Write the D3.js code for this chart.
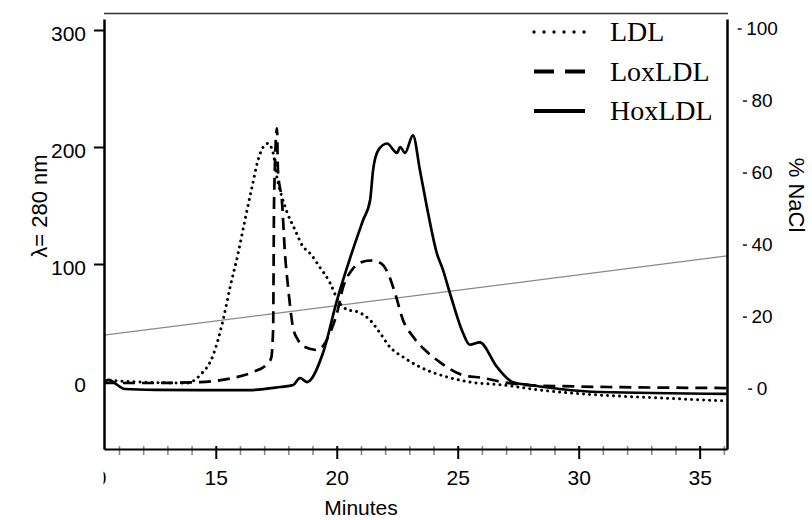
<!DOCTYPE html>
<html>
<head>
<meta charset="utf-8">
<script src="https://cdn.jsdelivr.net/npm/d3@7"></script>
<style>
  body { margin: 0; background: #fff; }
  text { font-family: Arial, "Liberation Sans", sans-serif; }
</style>
</head>
<body>
<svg id="chart" width="812" height="520"></svg>
<script>
// elution profiles (minutes vs absorbance at 280 nm)
const ldlTime = [10.38, 11.87, 13.81, 14.35, 14.89, 15.3, 15.59, 15.92, 16.21, 16.5, 16.75, 17.04, 17.16, 17.37, 17.53, 17.74, 17.95, 18.28, 18.57, 18.9, 19.31, 19.72, 20.05, 20.43, 20.88, 21.38, 21.79, 22.2, 22.74, 23.44, 24.56, 25.51, 26.87, 28.4, 30.88, 32.53, 36.13];
const ldlAbs  = [0.9, -0.9, -1.7, 5, 22, 52, 80, 109, 138, 166, 189, 202, 203, 195, 174, 157, 144, 129, 116, 109, 97, 84, 69, 61, 59, 52, 41, 29, 20.5, 12, 3.4, -0.9, -3.4, -7.7, -12, -13.7, -17];

const loxTime = [10.38, 12.28, 14.35, 15.71, 16.54, 17.12, 17.29, 17.37, 17.41, 17.53, 17.57, 17.74, 17.86, 17.99, 18.19, 18.4, 18.69, 19.19, 19.72, 20.01, 20.26, 20.63, 20.96, 21.38, 21.79, 22.12, 22.41, 22.74, 23.15, 23.65, 24.27, 25.22, 26.05, 26.87, 28.4, 36.13];
const loxAbs  = [-1.7, -1.7, -0.9, 2.6, 7.7, 14.5, 19.7, 43.6, 154.7, 216, 180, 152, 109, 80, 46, 35, 29, 26.5, 41, 58, 80, 95, 101, 103, 101, 92, 75, 52, 38, 26.5, 16, 5, 2.6, -1, -4, -6];

const hoxTime = [10.38, 10.55, 11.25, 12.5, 14.35, 16.42, 17.66, 18.2, 18.48, 18.77, 19.43, 20.01, 20.55, 21.09, 21.38, 21.5, 21.71, 22.08, 22.49, 22.62, 22.82, 23.15, 23.44, 23.77, 24.14, 24.39, 24.68, 25.22, 25.5, 25.91, 26.62, 27.28, 27.98, 29.22, 30.88, 36.13];
const hoxAbs  = [-2.6, 0.9, -6.8, -7.5, -7.7, -7.7, -5.1, -3.4, 2.6, -0.9, 23.9, 69, 105, 137.6, 154.7, 180, 197, 203, 195, 200, 195, 210, 180, 144, 109, 95, 75, 41, 31, 33, 12, -1, -3.4, -6.8, -9.4, -11];

// NaCl gradient (right axis)
const naclTime = [10.38, 36.13];
const naclPct  = [14.7, 36.7];

const absTicks = [0, 100, 200, 300];
const naclTicks = [0, 20, 40, 60, 80, 100];
const majorMinutes = [10, 15, 20, 25, 30, 35];
const legendLabels = ["LDL", "LoxLDL", "HoxLDL"];

const svg = d3.select("#chart");

const x = d3.scaleLinear().domain([10.38, 36.13]).range([104, 727]);
const yAbs = d3.scaleLinear().domain([-58.1, 309.4]).range([449, 19]);
const yNacl = d3.scaleLinear().domain([-16.9, 102.5]).range([449, 19]);

const defs = svg.append("defs");
defs.append("clipPath").attr("id", "plotClip")
  .append("rect").attr("x", 104).attr("y", 15).attr("width", 623).attr("height", 434);
defs.append("clipPath").attr("id", "xLabClip")
  .append("rect").attr("x", 103.5).attr("y", 440).attr("width", 709).attr("height", 80);

// top rule
svg.append("line")
  .attr("x1", x.range()[0]).attr("x2", x.range()[1] + 1)
  .attr("y1", 13.5).attr("y2", 13.5)
  .attr("stroke", "#333").attr("stroke-width", 1.5);

const plot = svg.append("g").attr("clip-path", "url(#plotClip)");

// gradient line
plot.append("path")
  .datum(d3.zip(naclTime, naclPct))
  .attr("d", d3.line().x(d => x(d[0])).y(d => yNacl(d[1])))
  .attr("fill", "none").attr("stroke", "#888").attr("stroke-width", 1.3);

const line = d3.line()
  .x(d => x(d[0])).y(d => yAbs(d[1]))
  .curve(d3.curveMonotoneX);

plot.append("path")
  .datum(d3.zip(ldlTime, ldlAbs))
  .attr("d", line)
  .attr("fill", "none").attr("stroke", "#000").attr("stroke-width", 3)
  .attr("stroke-linecap", "round").attr("stroke-dasharray", "0.01 6");

plot.append("path")
  .datum(d3.zip(loxTime, loxAbs))
  .attr("d", line)
  .attr("fill", "none").attr("stroke", "#000").attr("stroke-width", 2.7)
  .attr("stroke-dasharray", "12 7");

plot.append("path")
  .datum(d3.zip(hoxTime, hoxAbs))
  .attr("d", line)
  .attr("fill", "none").attr("stroke", "#000").attr("stroke-width", 2.7)
  .attr("stroke-linejoin", "round");

// left axis
const gLeft = svg.append("g")
  .attr("transform", "translate(104,0)")
  .call(d3.axisLeft(yAbs).tickValues(absTicks).tickSize(10).tickSizeOuter(0).tickPadding(8));
gLeft.select(".domain").attr("stroke-width", 2.5);
gLeft.selectAll(".tick line").attr("stroke-width", 2);
gLeft.selectAll(".tick").filter(d => d === 0).select("line").remove();
gLeft.selectAll(".tick text").attr("font-size", 21).attr("dy", "0.5em")
  .style("font-family", "Arial, 'Liberation Sans', sans-serif");

// bottom axis: minor ticks
const minorMinutes = d3.range(11, 37).filter(m => m % 5 !== 0);
const gMinor = svg.append("g")
  .attr("transform", "translate(0,449)")
  .call(d3.axisBottom(x).tickValues(minorMinutes).tickSize(6).tickFormat(""));
gMinor.select(".domain").remove();
gMinor.selectAll(".tick line").attr("y1", -3).attr("stroke", "#888").attr("stroke-width", 1.6);

// bottom axis: major ticks
const gBottom = svg.append("g")
  .attr("transform", "translate(0,449)")
  .call(d3.axisBottom(x).tickValues(majorMinutes).tickSize(10).tickSizeOuter(0).tickPadding(11));
gBottom.select(".domain").attr("stroke-width", 2.2);
gBottom.selectAll(".tick line").attr("y1", -3).attr("stroke-width", 2);
gBottom.selectAll(".tick text").attr("font-size", 21).attr("text-anchor", "middle")
  .style("font-family", "Arial, 'Liberation Sans', sans-serif");
// the 10 min tick sits left of the plot: only the edge of its label shows
gBottom.selectAll(".tick").filter(d => x(d) < 104).select("line").remove();
const labelClipGroup = svg.append("g").attr("clip-path", "url(#xLabClip)");
gBottom.selectAll(".tick").filter(d => x(d) < 104).each(function() {
  labelClipGroup.node().appendChild(this);
});
labelClipGroup.selectAll(".tick").attr("transform", d => `translate(${x(d)},449)`);

// right axis
const gRight = svg.append("g")
  .attr("transform", "translate(727,0)")
  .call(d3.axisRight(yNacl).tickValues(naclTicks).tickSize(0).tickSizeOuter(0));
gRight.select(".domain").attr("stroke-width", 2.5);
gRight.selectAll(".tick text")
  .attr("font-size", 19).attr("text-anchor", "middle").attr("x", 35).attr("dy", "0.36em")
  .style("font-family", "Arial, 'Liberation Sans', sans-serif");
gRight.selectAll(".tick").each(function() {
  const t = d3.select(this).select("text");
  const bb = t.node().getBBox();
  d3.select(this).append("line")
    .attr("x1", bb.x - 8.5).attr("x2", bb.x - 4.5)
    .attr("y1", 0.5).attr("y2", 0.5)
    .attr("stroke", "#000").attr("stroke-width", 1.4);
});

// axis titles
svg.append("text")
  .attr("x", 361).attr("y", 515)
  .attr("text-anchor", "middle").attr("font-size", 21)
  .text("Minutes");

svg.append("text")
  .attr("transform", "translate(47,206) rotate(-90)")
  .attr("text-anchor", "middle").attr("font-size", 22)
  .text("λ= 280 nm");

svg.append("text")
  .attr("transform", "translate(789,195) rotate(90)")
  .attr("text-anchor", "middle").attr("font-size", 22)
  .text("% NaCl");

// legend
const legendStyles = [
  { dash: "0.01 10", cap: "round", w: 3.4 },
  { dash: "20 11", cap: "butt", w: 4.2 },
  { dash: null, cap: "butt", w: 4.2 }
];
const legend = svg.append("g").selectAll("g")
  .data(legendLabels)
  .join("g")
  .attr("transform", (d, i) => `translate(0,${32 + i * 39.5})`);

legend.append("line")
  .attr("x1", 534).attr("x2", 585).attr("y1", 0).attr("y2", 0)
  .attr("stroke", "#000")
  .attr("stroke-width", (d, i) => legendStyles[i].w)
  .attr("stroke-linecap", (d, i) => legendStyles[i].cap)
  .attr("stroke-dasharray", (d, i) => legendStyles[i].dash);

legend.append("text")
  .attr("x", 610).attr("y", 9)
  .attr("font-size", 28)
  .style("font-family", "'Liberation Serif', 'Times New Roman', serif")
  .text(d => d);
</script>
</body>
</html>
